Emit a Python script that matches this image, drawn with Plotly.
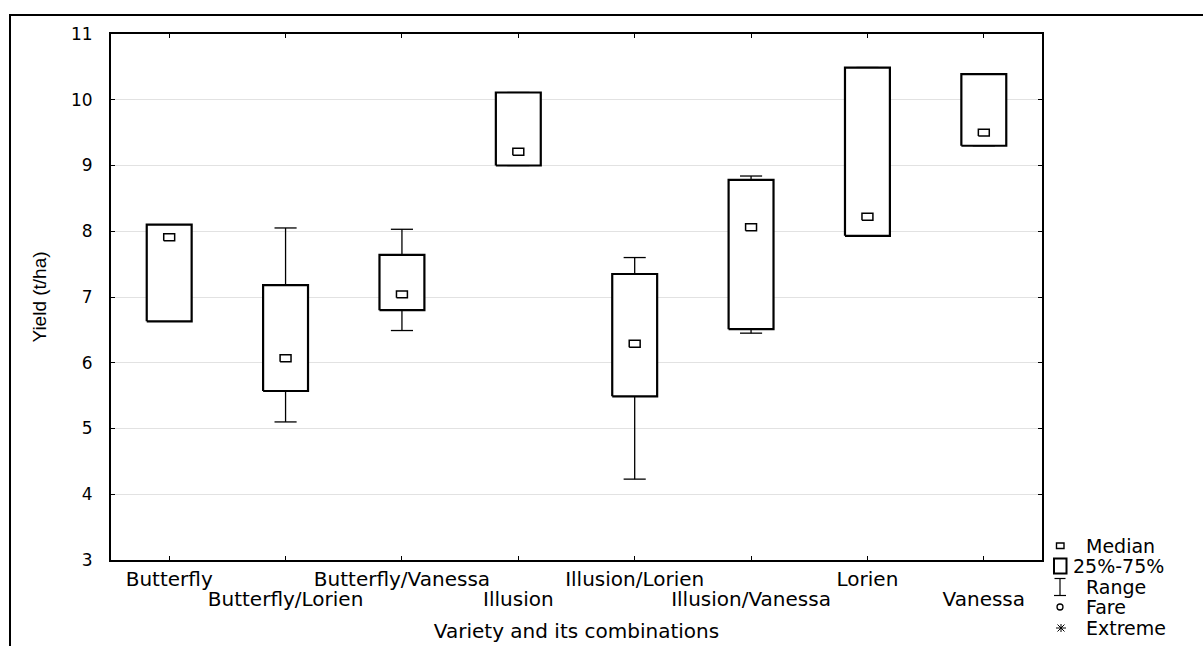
import plotly.graph_objects as go

# Yield (t/ha) per variety / combination: range, quartiles and median
categories = ["Butterfly", "Butterfly/Lorien", "Butterfly/Vanessa", "Illusion",
              "Illusion/Lorien", "Illusion/Vanessa", "Lorien", "Vanessa"]
minimum = [6.63, 5.10, 6.49, 9.00, 4.23, 6.45, 7.93, 9.30]
q1 = [6.63, 5.57, 6.80, 9.00, 5.49, 6.51, 7.93, 9.30]
median = [7.91, 6.07, 7.04, 9.21, 6.29, 8.06, 8.22, 9.50]
q3 = [8.10, 7.18, 7.64, 10.11, 7.35, 8.78, 10.49, 10.39]
maximum = [8.10, 8.05, 8.03, 10.11, 7.60, 8.84, 10.49, 10.39]

y_ticks = list(range(3, 12))
legend_labels = ["Median", "25%-75%", "Range", "Fare", "Extreme"]

# drawing geometry (category units / y units)
BOX_HALF = 0.193
CAP_HALF = 0.095
MED_HW = 0.047
MED_HH = 0.053

W, H = 1203, 646
ML, MR, MT, MB = 111, 161, 34, 86
PW, PH = W - ML - MR, H - MT - MB

FONT = "DejaVu Sans"
LABEL_SIZE = 20


def px_x(x):
    return (x - ML) / PW


def px_y(y):
    return (H - MB - y) / PH


def rect_path(xc, half_w, y0, y1):
    return ([xc - half_w, xc + half_w, xc + half_w, xc - half_w, xc - half_w, None],
            [y0, y0, y1, y1, y0, None])


# whiskers with caps
wx, wy = [], []
for i in range(len(categories)):
    wx += [i, i, None, i - CAP_HALF, i + CAP_HALF, None, i - CAP_HALF, i + CAP_HALF, None]
    wy += [minimum[i], maximum[i], None, maximum[i], maximum[i], None, minimum[i], minimum[i], None]

# interquartile boxes
bx, by = [], []
for i in range(len(categories)):
    px, py = rect_path(i, BOX_HALF, q1[i], q3[i])
    bx += px
    by += py

# median markers
mx, my = [], []
for i in range(len(categories)):
    px, py = rect_path(i, MED_HW, median[i] - MED_HH, median[i] + MED_HH)
    mx += px
    my += py

fig = go.Figure()
fig.add_trace(go.Scatter(x=wx, y=wy, mode="lines", line=dict(color="black", width=1.3),
                         hoverinfo="skip", showlegend=False))
fig.add_trace(go.Scatter(x=bx, y=by, mode="lines", fill="toself", fillcolor="white",
                         line=dict(color="black", width=2.2), hoverinfo="skip", showlegend=False))
fig.add_trace(go.Scatter(x=mx, y=my, mode="lines", fill="toself", fillcolor="white",
                         line=dict(color="black", width=1.5), hoverinfo="skip", showlegend=False))
# carrier for the second row of category labels
fig.add_trace(go.Scatter(x=[None], y=[None], xaxis="x2", yaxis="y", showlegend=False,
                         hoverinfo="skip"))

row1_text = [c if i % 2 == 0 else "" for i, c in enumerate(categories)]
row2_vals = [i for i in range(len(categories)) if i % 2 == 1]
row2_text = [categories[i] for i in row2_vals]

fig.update_layout(
    width=W, height=H,
    margin=dict(l=ML, r=MR, t=MT, b=MB, pad=0, autoexpand=False),
    paper_bgcolor="white", plot_bgcolor="white",
    showlegend=False,
    xaxis=dict(
        range=[-0.5, len(categories) - 0.5], automargin=False,
        tickmode="array", tickvals=list(range(len(categories))), ticktext=row1_text,
        ticks="inside", ticklen=4, tickwidth=1.2, tickcolor="black",
        showline=True, linewidth=2, linecolor="black", mirror="ticks",
        showgrid=False, zeroline=False,
        tickfont=dict(family=FONT, size=LABEL_SIZE, color="black"),
        ticklabelstandoff=0,
    ),
    xaxis2=dict(
        range=[-0.5, len(categories) - 0.5], overlaying="x", anchor="y", side="bottom",
        automargin=False,
        tickmode="array", tickvals=row2_vals, ticktext=row2_text,
        ticks="", showline=False, showgrid=False, zeroline=False,
        tickfont=dict(family=FONT, size=LABEL_SIZE, color="black"),
        ticklabelstandoff=25,
        title=dict(text="Variety and its combinations",
                   font=dict(family=FONT, size=LABEL_SIZE, color="black"), standoff=13),
    ),
    yaxis=dict(
        range=[3, 11], tickmode="array", tickvals=y_ticks, automargin=False,
        ticks="inside", ticklen=4, tickwidth=1.2, tickcolor="black",
        showline=True, linewidth=2, linecolor="black", mirror="ticks",
        showgrid=True, gridcolor="#e2e2e2", gridwidth=1.2, zeroline=False,
        tickfont=dict(family=FONT, size=17, color="black"),
        ticklabelstandoff=13,
        title=dict(text="Yield (t/ha)", font=dict(family="Liberation Sans", size=19, color="black"),
                   standoff=19),
    ),
)

shapes = []
# outer frame (left and top edges)
shapes.append(dict(type="line", xref="paper", yref="paper", x0=px_x(10), x1=px_x(10),
                   y0=px_y(15), y1=px_y(H + 5), line=dict(color="black", width=2)))
shapes.append(dict(type="line", xref="paper", yref="paper", x0=px_x(9), x1=px_x(W + 5),
                   y0=px_y(15), y1=px_y(15), line=dict(color="black", width=2)))

# legend symbols
legend_y = [546, 566, 587, 607, 628]
sx = 1060
shapes.append(dict(type="rect", xref="paper", yref="paper",
                   x0=px_x(sx - 3.5), x1=px_x(sx + 4), y0=px_y(legend_y[0] - 3), y1=px_y(legend_y[0] + 2.5),
                   line=dict(color="black", width=1.4), fillcolor="white"))
shapes.append(dict(type="rect", xref="paper", yref="paper",
                   x0=px_x(sx - 6), x1=px_x(sx + 6.5), y0=px_y(legend_y[1] - 7.5), y1=px_y(legend_y[1] + 7.5),
                   line=dict(color="black", width=2), fillcolor="white"))
for seg in [((sx, legend_y[2] - 8.5), (sx, legend_y[2] + 8.5)),
            ((sx - 5.5, legend_y[2] - 8.5), (sx + 5.5, legend_y[2] - 8.5)),
            ((sx - 6, legend_y[2] + 8.5), (sx + 6, legend_y[2] + 8.5))]:
    (x0, y0), (x1, y1) = seg
    shapes.append(dict(type="line", xref="paper", yref="paper", x0=px_x(x0), x1=px_x(x1),
                       y0=px_y(y0), y1=px_y(y1), line=dict(color="black", width=1.2)))
shapes.append(dict(type="circle", xref="paper", yref="paper",
                   x0=px_x(sx - 3), x1=px_x(sx + 3), y0=px_y(legend_y[3] + 3), y1=px_y(legend_y[3] - 3),
                   line=dict(color="black", width=1.3)))
for dx, dy in [(5, 0), (3.5, 3.5), (3.5, -3.5), (0, 4)]:
    shapes.append(dict(type="line", xref="paper", yref="paper",
                       x0=px_x(sx + 1 - dx), x1=px_x(sx + 1 + dx),
                       y0=px_y(legend_y[4] - dy), y1=px_y(legend_y[4] + dy),
                       line=dict(color="black", width=1)))
fig.update_layout(shapes=shapes)

text_x = [1084, 1071, 1084, 1084, 1084]
annotations = []
for lbl, tx, ty in zip(legend_labels, text_x, legend_y):
    annotations.append(dict(text=lbl, xref="paper", yref="paper", x=px_x(tx), y=px_y(ty),
                            xanchor="left", yanchor="middle", showarrow=False,
                            font=dict(family=FONT, size=19, color="black")))
fig.update_layout(annotations=annotations)

fig.write_html("out.html")
